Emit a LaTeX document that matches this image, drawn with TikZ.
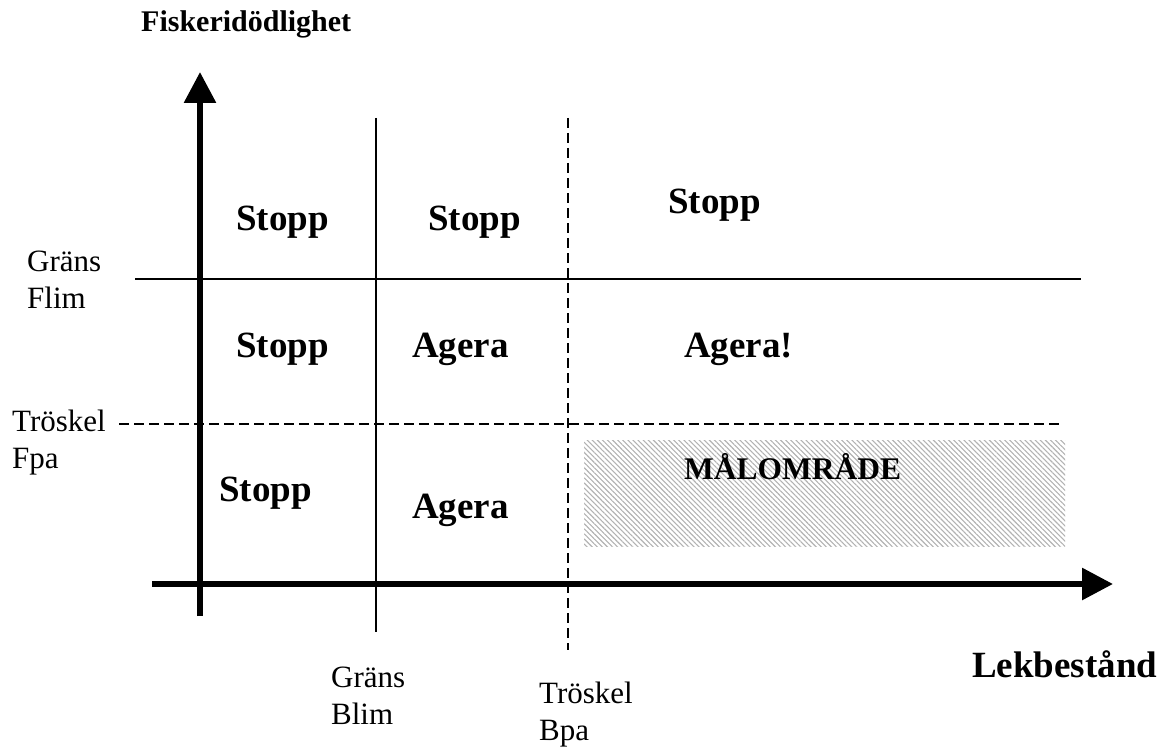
\documentclass[tikz,border=0pt]{standalone}
\usepackage{fontspec}
\setmainfont{Liberation Serif}
\usetikzlibrary{arrows.meta,patterns.meta}
\tikzset{
  axis/.style={line width=6pt,-{Triangle[length=31pt,width=31pt]}},
  limline/.style={line width=1.6pt},
  paline/.style={line width=1.6pt,dash pattern=on 10pt off 5pt},
  big/.style={inner sep=0pt,anchor=base west,font=\fontsize{37}{44}\selectfont\bfseries},
  ylab/.style={inner sep=0pt,anchor=base west,font=\fontsize{30}{36}\selectfont\bfseries},
  small/.style={inner sep=0pt,anchor=base west,font=\fontsize{31}{37}\selectfont},
  target/.style={inner sep=0pt,anchor=base west,font=\fontsize{31.5}{38}\selectfont\bfseries},
}
\newcommand{\twoline}[2]{\begin{tabular}[t]{@{}l@{}}#1\\#2\end{tabular}}
\begin{document}
\begin{tikzpicture}[x=1pt,y=-1pt]
\useasboundingbox (0,0) rectangle (1162,749);
% hatched target area
\pattern[pattern={Lines[angle=-45,distance=3.6pt,line width=1.1pt]},pattern color=black!30]
  (584,440) rectangle (1065,546);
% reference lines
\coordinate (flimL) at (135,279);
\coordinate (flimR) at (1081,279);
\coordinate (fpaL) at (119,424);
\coordinate (fpaR) at (1060,424);
\coordinate (blimT) at (376,118);
\coordinate (blimB) at (376,632);
\coordinate (bpaT) at (568,118);
\coordinate (bpaB) at (568,650);
\draw[limline] (flimL) -- (flimR);
\draw[paline] (fpaL) -- (fpaR);
\draw[limline] (blimT) -- (blimB);
\draw[paline] (bpaT) -- (bpaB);
% axes
\coordinate (yB) at (200,616);
\coordinate (yT) at (200,72);
\coordinate (xL) at (152,584);
\coordinate (xR) at (1113,584);
\draw[axis] (yB) -- (yT);
\draw[axis] (xL) -- (xR);
% axis titles
\node[ylab] (ytitle) at (141,32) {Fiskeridödlighet};
\node[big] (xtitle) at (972,677) {Lekbestånd};
% limit labels
\node[small] (glim) at (27,271) {\twoline{Gräns}{Flim}};
\node[small] (tfpa) at (12,431) {\twoline{Tröskel}{Fpa}};
\node[small] (gblim) at (331,687) {\twoline{Gräns}{Blim}};
\node[small] (tbpa) at (539,703) {\twoline{Tröskel}{Bpa}};
% region labels
\node[big] (s11) at (236,230) {Stopp};
\node[big] (s12) at (428,230) {Stopp};
\node[big] (s13) at (668,213) {Stopp};
\node[big] (s21) at (236,357) {Stopp};
\node[big] (a22) at (412,357) {Agera};
\node[big] (a23) at (684,357) {Agera!};
\node[big] (s31) at (219,501) {Stopp};
\node[big] (a32) at (412,518) {Agera};
\node[target] (malo) at (684,479) {MÅLOMRÅDE};
\end{tikzpicture}
\end{document}
